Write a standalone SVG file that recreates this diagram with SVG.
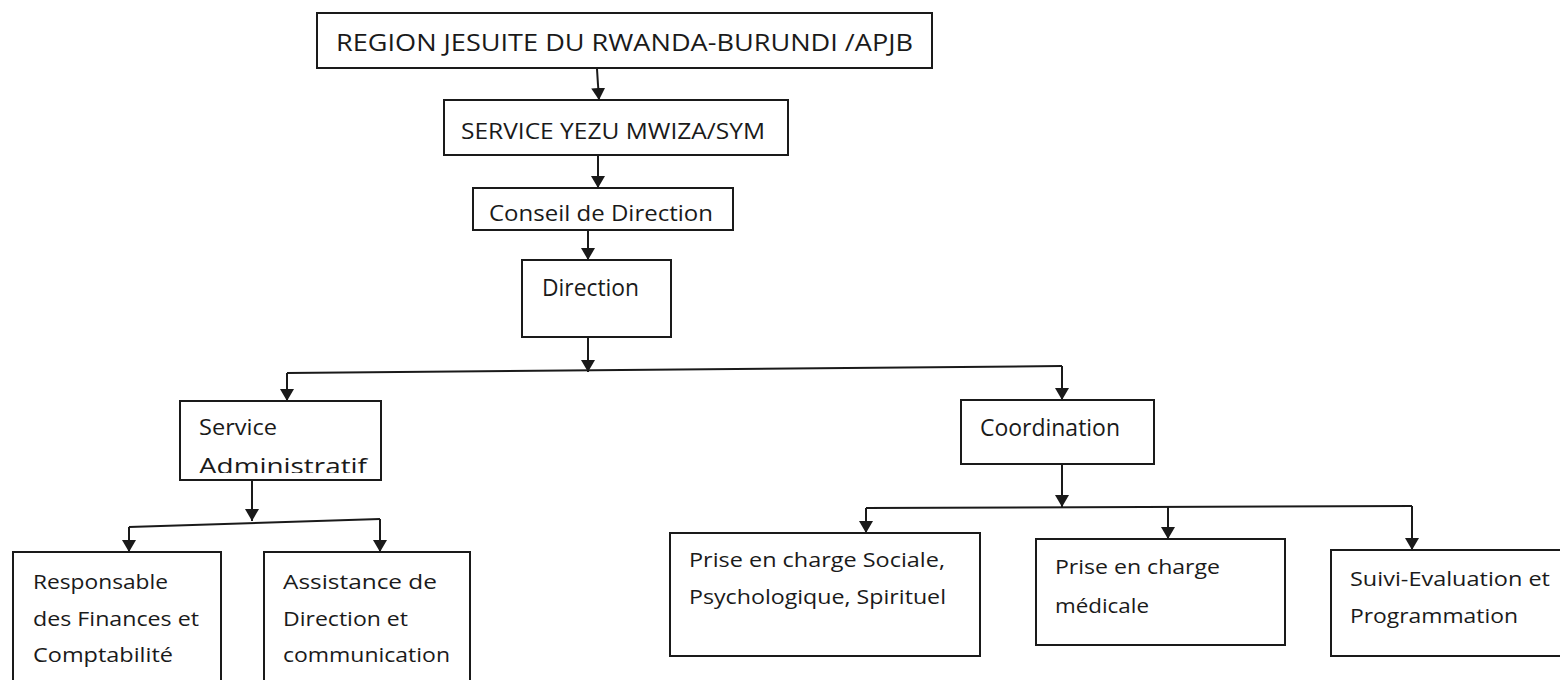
<svg xmlns="http://www.w3.org/2000/svg" width="1560" height="680" viewBox="0 0 1560 680">
<style>
.box{fill:#fff;stroke:#1a1a1a;stroke-width:2}
.t{font-family:"Open Sans","Liberation Sans",sans-serif;font-size:20.5px;fill:#1a1a1a}
.c{fill:none;stroke:#1a1a1a;stroke-width:2}
.a{fill:none;stroke:#1a1a1a;stroke-width:2;marker-end:url(#ah)}
</style>
<defs>
<marker id="ah" viewBox="0 0 12 14" refX="12" refY="7" markerWidth="12" markerHeight="14" markerUnits="userSpaceOnUse" orient="auto">
<path d="M0,0 L12,7 L0,14 Z" fill="#1a1a1a"/>
</marker>
<clipPath id="clipSA"><rect x="181" y="401" width="199" height="72"/></clipPath>
</defs>
<rect width="1560" height="680" fill="#fff"/>
<g id="connectors">
<path class="a" d="M597,69 L599,100"/>
<path class="a" d="M598,156 L598,188"/>
<path class="a" d="M588,231 L588,260"/>
<path class="a" d="M588,338 L588,372"/>
<path class="c" d="M287,373 L1062,366"/>
<path class="a" d="M287,373 L287,401"/>
<path class="a" d="M1062,366 L1062,400"/>
<path class="a" d="M252,481 L252,521"/>
<path class="c" d="M129,527 L380,519"/>
<path class="a" d="M129,527 L129,552"/>
<path class="a" d="M380,519 L380,552"/>
<path class="a" d="M1062,465 L1062,507"/>
<path class="c" d="M866,508 L1412,506"/>
<path class="a" d="M866,508 L866,533"/>
<path class="a" d="M1168,507 L1168,539"/>
<path class="a" d="M1412,506 L1412,550"/>
</g>
<g id="n1"><rect class="box" x="317" y="13" width="615" height="55"/>
<text class="t" x="336" y="51" style="font-size:23.5px" textLength="577" lengthAdjust="spacingAndGlyphs">REGION JESUITE DU RWANDA-BURUNDI /APJB</text></g>
<g id="n2"><rect class="box" x="444" y="100" width="344" height="55"/>
<text class="t" x="461" y="139" style="font-size:22px" textLength="304" lengthAdjust="spacingAndGlyphs">SERVICE YEZU MWIZA/SYM</text></g>
<g id="n3"><rect class="box" x="473" y="188" width="260" height="42"/>
<text class="t" x="489" y="221" style="font-size:22px" textLength="224" lengthAdjust="spacingAndGlyphs">Conseil de Direction</text></g>
<g id="n4"><rect class="box" x="522" y="260" width="149" height="77"/>
<text class="t" x="542" y="296" style="font-size:23px" textLength="97" lengthAdjust="spacingAndGlyphs">Direction</text></g>
<g id="n5"><rect class="box" x="180" y="401" width="201" height="79"/>
<text class="t" x="199" y="435" style="font-size:21.5px" textLength="78" lengthAdjust="spacingAndGlyphs">Service</text>
<text class="t" x="199" y="474" style="font-size:21.5px" clip-path="url(#clipSA)" textLength="168" lengthAdjust="spacingAndGlyphs">Administratif</text></g>
<g id="n6"><rect class="box" x="961" y="400" width="193" height="64"/>
<text class="t" x="980" y="436" style="font-size:23px" textLength="140" lengthAdjust="spacingAndGlyphs">Coordination</text></g>
<g id="n7"><rect class="box" x="13" y="552" width="208" height="140"/>
<text class="t" x="33" y="589" textLength="135" lengthAdjust="spacingAndGlyphs">Responsable</text>
<text class="t" x="33" y="626" textLength="166" lengthAdjust="spacingAndGlyphs">des Finances et</text>
<text class="t" x="33" y="662" textLength="140" lengthAdjust="spacingAndGlyphs">Comptabilité</text></g>
<g id="n8"><rect class="box" x="264" y="552" width="206" height="140"/>
<text class="t" x="283" y="589" textLength="154" lengthAdjust="spacingAndGlyphs">Assistance de</text>
<text class="t" x="283" y="626" textLength="125" lengthAdjust="spacingAndGlyphs">Direction et</text>
<text class="t" x="283" y="662" textLength="167" lengthAdjust="spacingAndGlyphs">communication</text></g>
<g id="n9"><rect class="box" x="670" y="533" width="310" height="123"/>
<text class="t" x="689" y="567" textLength="256" lengthAdjust="spacingAndGlyphs">Prise en charge Sociale,</text>
<text class="t" x="689" y="604" textLength="257" lengthAdjust="spacingAndGlyphs">Psychologique, Spirituel</text></g>
<g id="n10"><rect class="box" x="1036" y="539" width="249" height="106"/>
<text class="t" x="1055" y="574" textLength="165" lengthAdjust="spacingAndGlyphs">Prise en charge</text>
<text class="t" x="1055" y="613" textLength="94" lengthAdjust="spacingAndGlyphs">médicale</text></g>
<g id="n11"><rect class="box" x="1331" y="550" width="231" height="106"/>
<text class="t" x="1350" y="586" textLength="200" lengthAdjust="spacingAndGlyphs">Suivi-Evaluation et</text>
<text class="t" x="1350" y="623" textLength="168" lengthAdjust="spacingAndGlyphs">Programmation</text></g>
</svg>
